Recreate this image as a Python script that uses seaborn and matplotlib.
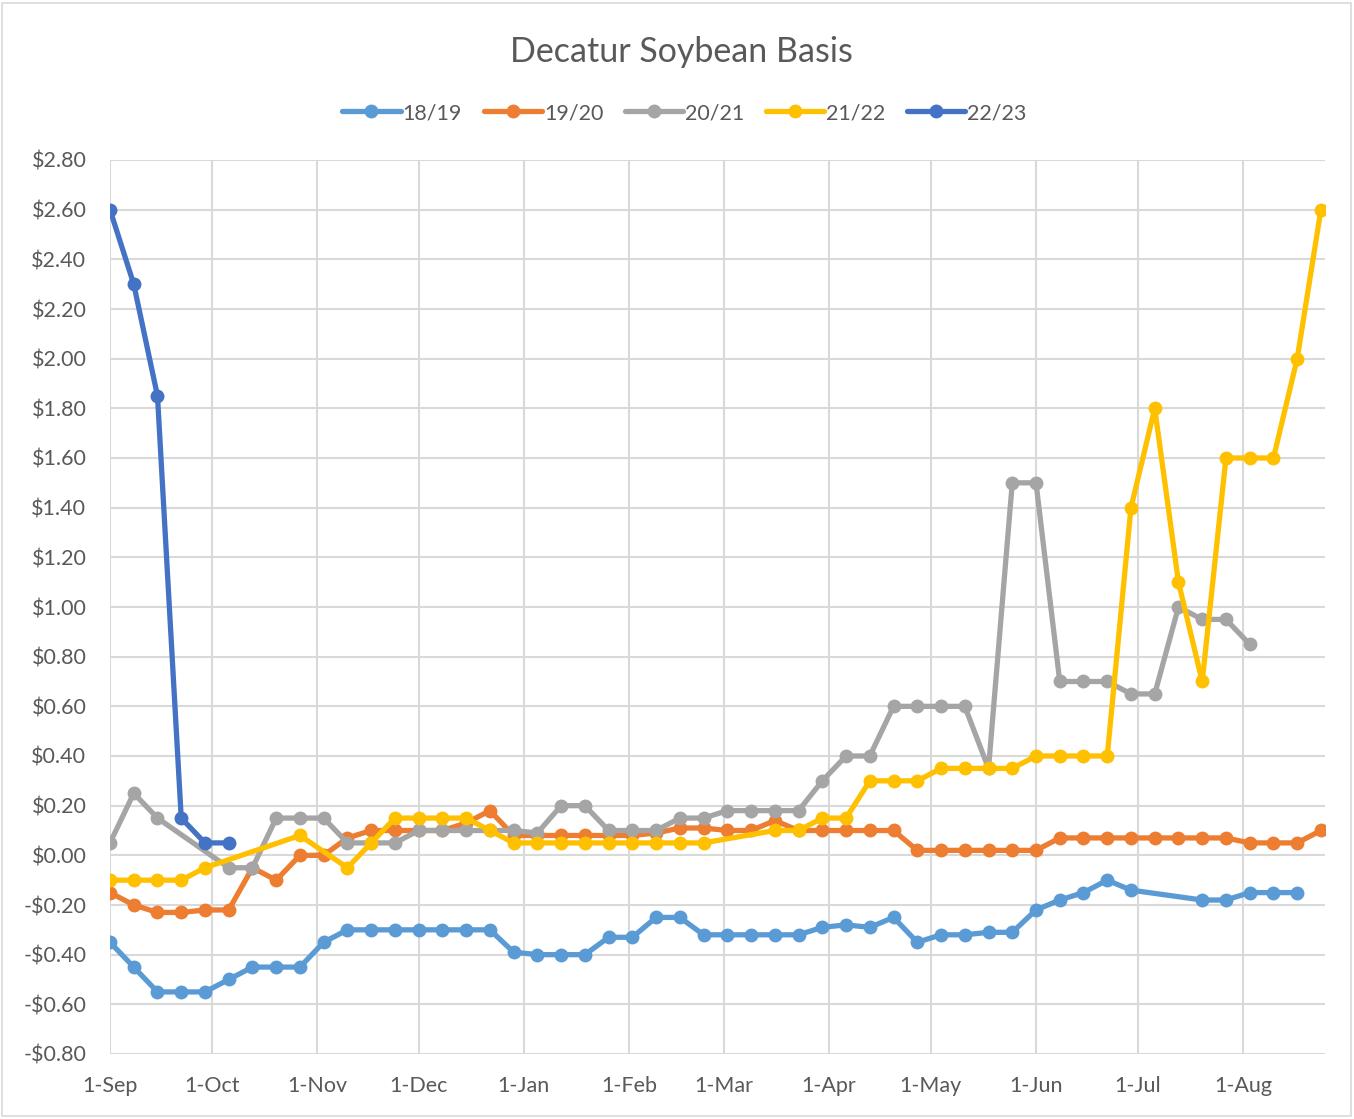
import numpy as np
import pandas as pd
import matplotlib
matplotlib.use("Agg")
import matplotlib.pyplot as plt
from matplotlib.lines import Line2D
from matplotlib.patches import Rectangle
from matplotlib.ticker import FuncFormatter, MultipleLocator
import seaborn as sns

# ---------------- data ----------------
week_dates = pd.date_range("2022-09-01", periods=52, freq="7D")
seasons = ["18/19", "19/20", "20/21", "21/22", "22/23"]
N = None

basis_1819 = [-0.35, -0.45, -0.55, -0.55, -0.55, -0.50, -0.45, -0.45, -0.45, -0.35,
              -0.30, -0.30, -0.30, -0.30, -0.30, -0.30, -0.30, -0.39, -0.40, -0.40,
              -0.40, -0.33, -0.33, -0.25, -0.25, -0.32, -0.32, -0.32, -0.32, -0.32,
              -0.29, -0.28, -0.29, -0.25, -0.35, -0.32, -0.32, -0.31, -0.31, -0.22,
              -0.18, -0.15, -0.10, -0.14, N, N, -0.18, -0.18, -0.15, -0.15,
              -0.15, N]
basis_1920 = [-0.15, -0.20, -0.23, -0.23, -0.22, -0.22, -0.05, -0.10, 0.00, 0.00,
              0.07, 0.10, 0.10, 0.10, 0.10, 0.13, 0.18, 0.08, 0.08, 0.08,
              0.08, 0.08, 0.08, 0.09, 0.11, 0.11, 0.10, 0.10, 0.14, 0.10,
              0.10, 0.10, 0.10, 0.10, 0.02, 0.02, 0.02, 0.02, 0.02, 0.02,
              0.07, 0.07, 0.07, 0.07, 0.07, 0.07, 0.07, 0.07, 0.05, 0.05,
              0.05, 0.10]
basis_2021 = [0.05, 0.25, 0.15, N, N, -0.05, -0.05, 0.15, 0.15, 0.15,
              0.05, 0.05, 0.05, 0.10, 0.10, 0.10, 0.10, 0.10, 0.09, 0.20,
              0.20, 0.10, 0.10, 0.10, 0.15, 0.15, 0.18, 0.18, 0.18, 0.18,
              0.30, 0.40, 0.40, 0.60, 0.60, 0.60, 0.60, 0.35, 1.50, 1.50,
              0.70, 0.70, 0.70, 0.65, 0.65, 1.00, 0.95, 0.95, 0.85, N,
              N, N]
basis_2122 = [-0.10, -0.10, -0.10, -0.10, -0.05, N, N, N, 0.08, N,
              -0.05, 0.05, 0.15, 0.15, 0.15, 0.15, 0.10, 0.05, 0.05, 0.05,
              0.05, 0.05, 0.05, 0.05, 0.05, 0.05, N, N, 0.10, 0.10,
              0.15, 0.15, 0.30, 0.30, 0.30, 0.35, 0.35, 0.35, 0.35, 0.40,
              0.40, 0.40, 0.40, 1.40, 1.80, 1.10, 0.70, 1.60, 1.60, 1.60,
              2.00, 2.60]
basis_2223 = [2.60, 2.30, 1.85, 0.15, 0.05, 0.05] + [N] * 46

colors = {"18/19": "#5B9BD5", "19/20": "#ED7D31", "20/21": "#A5A5A5",
          "21/22": "#FFC000", "22/23": "#4472C4"}
month_ticks = pd.date_range("2022-09-01", "2023-08-01", freq="MS")

series = [basis_1819, basis_1920, basis_2021, basis_2122, basis_2223]
frames = []
for s, vals in zip(seasons, series):
    frames.append(pd.DataFrame({"date": week_dates, "basis": vals, "season": s}))
df = pd.concat(frames, ignore_index=True)
df["basis"] = pd.to_numeric(df["basis"])
df = df.dropna(subset=["basis"])

# ---------------- plot ----------------
sns.set_theme(style="white")
plt.rcParams["font.family"] = ["Lato", "DejaVu Sans"]

W, H = 1354, 1119
fig = plt.figure(figsize=(W / 100, H / 100), dpi=100)
ax = fig.add_axes([110 / W, 1 - 1054 / H, (1325 - 110) / W, (1054 - 160) / H])

LW, MS = 3.8, 10
sns.lineplot(data=df, x="date", y="basis", hue="season", hue_order=seasons,
             palette=colors, marker="o", markersize=MS, markeredgewidth=0,
             linewidth=LW, sort=True, legend=False, ax=ax, zorder=3)

ax.set_xlim(week_dates[0], week_dates[0] + pd.Timedelta(days=358.2))
ax.set_ylim(-0.8, 2.8)
ax.yaxis.set_major_locator(MultipleLocator(0.2))
ax.yaxis.set_major_formatter(FuncFormatter(
    lambda v, p: ("-$" if v < -1e-9 else "$") + f"{abs(v):.2f}"))
ax.set_xticks(month_ticks)
ax.set_xticklabels([f"{d.day}-{d.strftime('%b')}" for d in month_ticks])

ax.grid(True, color="#D9D9D9", linewidth=1.5)
ax.set_axisbelow(True)
for sp in ax.spines.values():
    sp.set_visible(False)
ax.tick_params(axis="both", length=0, labelsize=15.5, colors="#595959")
ax.tick_params(axis="y", pad=17)
ax.tick_params(axis="x", pad=16)
ax.set_xlabel("")
ax.set_ylabel("")

fig.text(0.503, 1 - 52 / H, "Decatur Soybean Basis", ha="center", va="center",
         fontsize=24.5, color="#595959")

handles = [Line2D([0], [0], color=colors[s], lw=LW, marker="o", markersize=MS,
                  markeredgewidth=0) for s in seasons]
fig.legend(handles, seasons, loc="center", bbox_to_anchor=(0.5055, 1 - 113 / H),
           ncol=5, frameon=False, fontsize=15.5, handlelength=2.7,
           handletextpad=0.1, columnspacing=1.0, labelcolor="#595959")

fig.patches.append(Rectangle((2 / W, 3 / H), 1 - 5 / W, 1 - 6 / H,
                             transform=fig.transFigure, fill=False,
                             edgecolor="#D9D9D9", linewidth=1.2))

fig.savefig("out.png", dpi=100)
